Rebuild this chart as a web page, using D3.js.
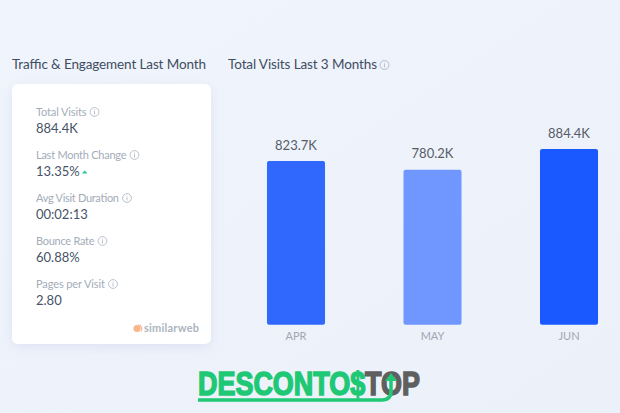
<!DOCTYPE html>
<html>
<head>
<meta charset="utf-8">
<script src="https://cdn.jsdelivr.net/npm/d3@7"></script>
<style>
  html, body { margin: 0; padding: 0; background: #eff3fb; overflow: hidden; }
  text { font-family: Lato, "Noto Sans", sans-serif; }
</style>
</head>
<body>
<div id="chart"></div>
<script>
const width = 620;
const height = 413;

const months = ["APR", "MAY", "JUN"];
const visits = [823.7, 780.2, 884.4];
const visitLabels = ["823.7K", "780.2K", "884.4K"];
const barColors = ["#3068fe", "#7096ff", "#1a59ff"];

const metricNames = ["Total Visits", "Last Month Change", "Avg Visit Duration", "Bounce Rate", "Pages per Visit"];
const metricValues = ["884.4K", "13.35%", "00:02:13", "60.88%", "2.80"];

const svg = d3.select("#chart").append("svg")
  .attr("width", width)
  .attr("height", height)
  .attr("viewBox", [0, 0, width, height])
  .style("display", "block");

const defs = svg.append("defs");
const bg = defs.append("linearGradient").attr("id", "bg")
  .attr("x1", 0).attr("y1", 0).attr("x2", 1).attr("y2", 1);
bg.append("stop").attr("offset", "0%").attr("stop-color", "#f0f4fc");
bg.append("stop").attr("offset", "100%").attr("stop-color", "#ecf0f9");
const shadow = defs.append("filter").attr("id", "shadow")
  .attr("x", "-20%").attr("y", "-20%").attr("width", "140%").attr("height", "140%");
shadow.append("feDropShadow").attr("dx", 0).attr("dy", 3).attr("stdDeviation", 6)
  .attr("flood-color", "#b9c6e4").attr("flood-opacity", 0.35);

svg.append("rect").attr("width", width).attr("height", height).attr("fill", "url(#bg)");

// titles
svg.append("text").attr("x", 12).attr("y", 69)
  .attr("font-size", 13.5).attr("fill", "#3f4d61").attr("textLength", 194)
  .text("Traffic & Engagement Last Month");
svg.append("text").attr("x", 228).attr("y", 69)
  .attr("font-size", 13.5).attr("fill", "#3f4d61").attr("textLength", 149)
  .text("Total Visits Last 3 Months");

function infoIcon(g, cx, cy, r) {
  const i = g.append("g").attr("transform", `translate(${cx},${cy})`)
    .attr("fill", "none").attr("stroke", "#aab3c0").attr("stroke-width", 0.8);
  i.append("circle").attr("r", r);
  i.append("line").attr("y1", -0.8).attr("y2", r * 0.55);
  i.append("line").attr("y1", -r * 0.55).attr("y2", -r * 0.35);
}
infoIcon(svg, 384.5, 65, 4.5);

// card
svg.append("rect")
  .attr("x", 12).attr("y", 84).attr("width", 199).attr("height", 260).attr("rx", 6)
  .attr("fill", "#fff").attr("filter", "url(#shadow)");

const rowY = d3.scalePoint().domain(metricNames).range([116, 288]);
const nameWidths = [50.5, 90.5, 83, 58.5, 69];

const rows = svg.append("g").selectAll("g").data(metricNames).join("g")
  .attr("transform", d => `translate(36,${rowY(d)})`);
rows.append("text")
  .attr("font-size", 11).attr("fill", "#a3acb9")
  .attr("textLength", (d, i) => nameWidths[i])
  .text(d => d);
rows.append("text")
  .attr("y", 16.5)
  .attr("font-size", 13).attr("fill", "#475367")
  .text((d, i) => metricValues[i]);
rows.each(function (d, i) {
  infoIcon(d3.select(this), nameWidths[i] + 8, -4, 4.4);
});

// up arrow next to the change
svg.append("path").attr("d", "M82 173.5 L84.7 170.5 L87.5 173.5 Z").attr("fill", "#1fcf87");

// similarweb mark
svg.append("path").attr("d", "M137 325 a4 4 0 0 1 3 7 a3 3 0 0 0 -3 -7 Z").attr("fill", "#f4b183");
svg.append("circle").attr("cx", 137).attr("cy", 328.5).attr("r", 3.6).attr("fill", "#f6b78c");
svg.append("text").attr("x", 144).attr("y", 332)
  .attr("font-size", 11).attr("font-weight", 700).attr("fill", "#adb4c0")
  .attr("textLength", 55).text("similarweb");

// bars
const x = d3.scaleBand().domain(months).range([227.75, 637.25])
  .paddingInner(0.575).paddingOuter(0.2875);
const y = d3.scaleLinear().domain([0, 884.4]).range([324.7, 149]);

svg.append("g").selectAll("rect").data(months).join("rect")
  .attr("x", d => x(d))
  .attr("y", (d, i) => y(visits[i]))
  .attr("width", x.bandwidth())
  .attr("height", (d, i) => y(0) - y(visits[i]))
  .attr("rx", 2)
  .attr("fill", (d, i) => barColors[i]);

svg.append("g").selectAll("text").data(months).join("text")
  .attr("x", d => x(d) + x.bandwidth() / 2)
  .attr("y", (d, i) => y(visits[i]) - 11.5)
  .attr("text-anchor", "middle")
  .attr("font-size", 13).attr("fill", "#555c68")
  .text((d, i) => visitLabels[i]);

const xAxis = svg.append("g")
  .attr("transform", "translate(0,324.7)")
  .call(d3.axisBottom(x).tickSize(0).tickPadding(8));
xAxis.select(".domain").remove();
xAxis.selectAll("text")
  .attr("font-family", "Lato").attr("font-size", 11).attr("fill", "#a0a7b2");

// watermark logo
const logo = svg.append("text").attr("x", 198).attr("y", 394.5)
  .style("font-family", '"Liberation Sans Narrow", "Liberation Sans"')
  .attr("font-weight", 700).attr("font-size", 34).attr("stroke-width", 1.6)
  .attr("textLength", 222).attr("lengthAdjust", "spacingAndGlyphs");
logo.append("tspan").attr("fill", "#1fc875").attr("stroke", "#1fc875").text("DESCONTO$");
logo.append("tspan").attr("fill", "#5f5f5f").attr("stroke", "#5f5f5f").text("TOP");
svg.append("path")
  .attr("d", "M198 400 H382 Q391 400 391 391 V380")
  .attr("fill", "none").attr("stroke", "#1fc875").attr("stroke-width", 3.5);
svg.append("path").attr("d", "M385 381 L391 373 L397 381 Z").attr("fill", "#1fc875");
</script>
</body>
</html>
